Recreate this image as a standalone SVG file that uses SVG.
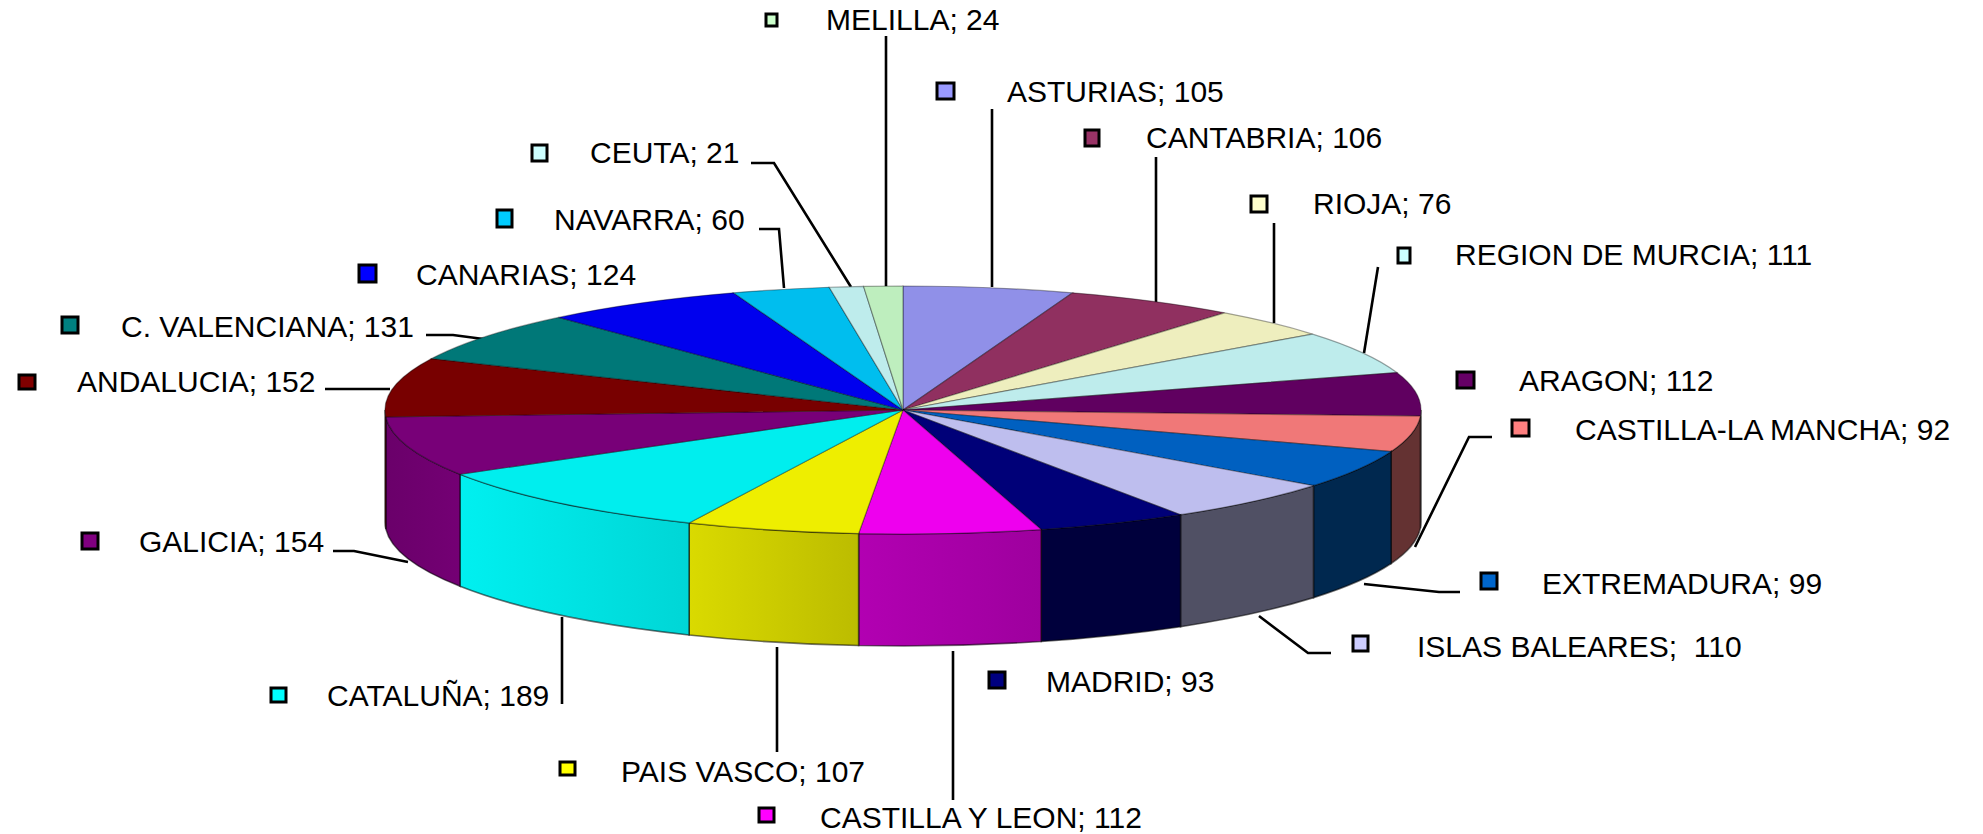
<svg xmlns="http://www.w3.org/2000/svg" width="1983" height="834" viewBox="0 0 1983 834">
<style>
.lbl{font-family:"Liberation Sans",Arial,sans-serif;font-size:30px;fill:#000}
.pre{white-space:pre}
.key{stroke:#000;stroke-width:3}
.lead{stroke:#000;stroke-width:2.6;fill:none}
.top{stroke:#000;stroke-opacity:0.35;stroke-width:1.2}
.side{stroke:#000;stroke-opacity:0.55;stroke-width:1.6}
</style>
<defs>
<linearGradient id="gCat" x1="0" x2="1" y1="0" y2="0"><stop offset="0" stop-color="#00F0F0"/><stop offset="1" stop-color="#00D6D6"/></linearGradient>
<linearGradient id="gPV" x1="0" x2="1" y1="0" y2="0"><stop offset="0" stop-color="#DADA00"/><stop offset="1" stop-color="#BCBC00"/></linearGradient>
<linearGradient id="gCyL" x1="0" x2="1" y1="0" y2="0"><stop offset="0" stop-color="#B200B2"/><stop offset="1" stop-color="#9E009E"/></linearGradient>
<linearGradient id="gGal" x1="0" x2="1" y1="0" y2="0"><stop offset="0" stop-color="#6A006A"/><stop offset="1" stop-color="#740074"/></linearGradient>
</defs>
<rect x="0" y="0" width="1983" height="834" fill="#fff"/>

<g id="connectors">
<polyline class="lead" points="886,36 886,287"/>
<polyline class="lead" points="992,109 992,287"/>
<polyline class="lead" points="1156,157 1156,302"/>
<polyline class="lead" points="1274,223 1274,323"/>
<polyline class="lead" points="1378,267 1364,353"/>
<polyline class="lead" points="1492,437 1469,437 1415,547"/>
<polyline class="lead" points="1460,592 1439,592 1364,584"/>
<polyline class="lead" points="1331,653 1308,653 1259,616"/>
<polyline class="lead" points="953,800 953,651"/>
<polyline class="lead" points="777,752 777,647"/>
<polyline class="lead" points="562,704 562,617"/>
<polyline class="lead" points="333,551 354,551 408,562"/>
<polyline class="lead" points="325,389 390,389"/>
<polyline class="lead" points="426,335 453,335 491,340"/>
<polyline class="lead" points="759,229 779,229 784,288"/>
<polyline class="lead" points="751,163 774,163 851,287"/>
</g>

<g id="asturias">
<path class="top" fill="#9090E8" d="M903 410 L903 286 A518 124 0 0 1 1072.58 292.83 Z"/>
<rect class="key" fill="#9999FF" x="937" y="83" width="17" height="16"/>
<text class="lbl" x="1007" y="102">ASTURIAS; 105</text>
</g>
<g id="cantabria">
<path class="top" fill="#903060" d="M903 410 L1072.58 292.83 A518 124 0 0 1 1224.77 312.82 Z"/>
<rect class="key" fill="#993366" x="1085" y="130" width="14" height="16"/>
<text class="lbl" x="1146" y="148">CANTABRIA; 106</text>
</g>
<g id="rioja">
<path class="top" fill="#EEEEBE" d="M903 410 L1224.77 312.82 A518 124 0 0 1 1312.52 334.07 Z"/>
<rect class="key" fill="#FFFFCC" x="1251" y="196" width="16" height="16"/>
<text class="lbl" x="1313" y="214">RIOJA; 76</text>
</g>
<g id="murcia">
<path class="top" fill="#BEECEC" d="M903 410 L1312.52 334.07 A518 124 0 0 1 1396.85 372.58 Z"/>
<rect class="key" fill="#CCFFFF" x="1398" y="248" width="12" height="15"/>
<text class="lbl" x="1455" y="265">REGION DE MURCIA; 111</text>
</g>
<g id="aragon">
<path class="side" fill="#9A9090" d="M1421 410 A518 124 0 0 1 1420.37 416.10 L1420.37 528.10 A518 124 0 0 0 1421 522 Z"/>
<path class="top" fill="#600060" d="M903 410 L1396.85 372.58 A518 124 0 0 1 1420.37 416.10 Z"/>
<rect class="key" fill="#660066" x="1457" y="372" width="17" height="16"/>
<text class="lbl" x="1519" y="391">ARAGON; 112</text>
</g>
<g id="castilla-la-mancha">
<path class="side" fill="#643232" d="M1420.37 416.10 A518 124 0 0 1 1391.10 451.53 L1391.10 563.53 A518 124 0 0 0 1420.37 528.10 Z"/>
<path class="top" fill="#F07878" d="M903 410 L1420.37 416.10 A518 124 0 0 1 1391.10 451.53 Z"/>
<rect class="key" fill="#FF8080" x="1512" y="420" width="17" height="16"/>
<text class="lbl" x="1575" y="440">CASTILLA-LA MANCHA; 92</text>
</g>
<g id="extremadura">
<path class="side" fill="#00284F" d="M1391.10 451.53 A518 124 0 0 1 1313.48 485.63 L1313.48 597.63 A518 124 0 0 0 1391.10 563.53 Z"/>
<path class="top" fill="#0060C0" d="M903 410 L1391.10 451.53 A518 124 0 0 1 1313.48 485.63 Z"/>
<rect class="key" fill="#0066CC" x="1481" y="573" width="16" height="16"/>
<text class="lbl" x="1542" y="594">EXTREMADURA; 99</text>
</g>
<g id="islas-baleares">
<path class="side" fill="#505064" d="M1313.48 485.63 A518 124 0 0 1 1180.53 514.70 L1180.53 626.70 A518 124 0 0 0 1313.48 597.63 Z"/>
<path class="top" fill="#BEBEEE" d="M903 410 L1313.48 485.63 A518 124 0 0 1 1180.53 514.70 Z"/>
<rect class="key" fill="#CCCCFF" x="1353" y="636" width="15" height="15"/>
<text class="lbl pre" x="1417" y="657" xml:space="preserve">ISLAS BALEARES;  110</text>
</g>
<g id="madrid">
<path class="side" fill="#00003C" d="M1180.53 514.70 A518 124 0 0 1 1041.17 529.51 L1041.17 641.51 A518 124 0 0 0 1180.53 626.70 Z"/>
<path class="top" fill="#000078" d="M903 410 L1180.53 514.70 A518 124 0 0 1 1041.17 529.51 Z"/>
<rect class="key" fill="#000080" x="989" y="672" width="16" height="16"/>
<text class="lbl" x="1046" y="692">MADRID; 93</text>
</g>
<g id="castilla-y-leon">
<path class="side" fill="url(#gCyL)" d="M1041.17 529.51 A518 124 0 0 1 858.62 533.54 L858.62 645.54 A518 124 0 0 0 1041.17 641.51 Z"/>
<path class="top" fill="#EE00EE" d="M903 410 L1041.17 529.51 A518 124 0 0 1 858.62 533.54 Z"/>
<rect class="key" fill="#FF00FF" x="759" y="808" width="15" height="14"/>
<text class="lbl" x="820" y="828">CASTILLA Y LEON; 112</text>
</g>
<g id="pais-vasco">
<path class="side" fill="url(#gPV)" d="M858.62 533.54 A518 124 0 0 1 689.08 522.93 L689.08 634.93 A518 124 0 0 0 858.62 645.54 Z"/>
<path class="top" fill="#EEEE00" d="M903 410 L858.62 533.54 A518 124 0 0 1 689.08 522.93 Z"/>
<rect class="key" fill="#FFFF00" x="560" y="762" width="15" height="13"/>
<text class="lbl" x="621" y="782">PAIS VASCO; 107</text>
</g>
<g id="cataluna">
<path class="side" fill="url(#gCat)" d="M689.08 522.93 A518 124 0 0 1 459.99 474.26 L459.99 586.26 A518 124 0 0 0 689.08 634.93 Z"/>
<path class="top" fill="#00EEEE" d="M903 410 L689.08 522.93 A518 124 0 0 1 459.99 474.26 Z"/>
<rect class="key" fill="#00FFFF" x="271" y="688" width="15" height="14"/>
<text class="lbl" x="327" y="706">CATALUÑA; 189</text>
</g>
<g id="galicia">
<path class="side" fill="url(#gGal)" d="M459.99 474.26 A518 124 0 0 1 385.80 416.89 L385.80 528.89 A518 124 0 0 0 459.99 586.26 Z"/>
<path class="top" fill="#780078" d="M903 410 L459.99 474.26 A518 124 0 0 1 385.80 416.89 Z"/>
<rect class="key" fill="#800080" x="82" y="533" width="16" height="16"/>
<text class="lbl" x="139" y="552">GALICIA; 154</text>
</g>
<g id="andalucia">
<path class="side" fill="#6A0000" d="M385.80 416.89 A518 124 0 0 1 385 410 L385 522 A518 124 0 0 0 385.80 528.89 Z"/>
<path class="top" fill="#780000" d="M903 410 L385.80 416.89 A518 124 0 0 1 431.57 358.61 Z"/>
<rect class="key" fill="#800000" x="19" y="375" width="16" height="14"/>
<text class="lbl" x="77" y="392">ANDALUCIA; 152</text>
</g>
<g id="c-valenciana">
<path class="top" fill="#007878" d="M903 410 L431.57 358.61 A518 124 0 0 1 558.55 317.39 Z"/>
<rect class="key" fill="#008080" x="62" y="317" width="16" height="16"/>
<text class="lbl" x="121" y="337">C. VALENCIANA; 131</text>
</g>
<g id="canarias">
<path class="top" fill="#0000EE" d="M903 410 L558.55 317.39 A518 124 0 0 1 733.42 292.83 Z"/>
<rect class="key" fill="#0000FF" x="359" y="265" width="17" height="17"/>
<text class="lbl" x="416" y="285">CANARIAS; 124</text>
</g>
<g id="navarra">
<path class="top" fill="#00BEEE" d="M903 410 L733.42 292.83 A518 124 0 0 1 829.21 287.26 Z"/>
<rect class="key" fill="#00CCFF" x="497" y="210" width="15" height="17"/>
<text class="lbl" x="554" y="230">NAVARRA; 60</text>
</g>
<g id="ceuta">
<path class="top" fill="#BEECEC" d="M903 410 L829.21 287.26 A518 124 0 0 1 863.55 286.36 Z"/>
<rect class="key" fill="#CCFFFF" x="532" y="145" width="15" height="16"/>
<text class="lbl" x="590" y="163">CEUTA; 21</text>
</g>
<g id="melilla">
<path class="top" fill="#BEEEBE" d="M903 410 L863.55 286.36 A518 124 0 0 1 903 286 Z"/>
<rect class="key" fill="#CCFFCC" x="766" y="14" width="11" height="12"/>
<text class="lbl" x="826" y="30">MELILLA; 24</text>
</g>
</svg>
